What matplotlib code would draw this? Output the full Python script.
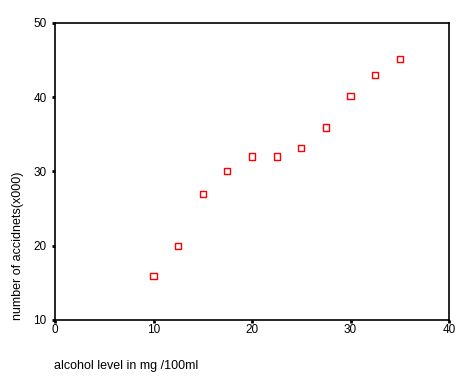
import matplotlib
matplotlib.use("Agg")
import matplotlib.pyplot as plt

# alcohol level (mg/100ml) vs number of accidents (x000)
alcohol = [10, 12.5, 15, 17.5, 20, 22.5, 25, 27.5, 30, 32.5, 35]
accidents = [15.9, 20, 26.9, 30, 32, 32, 33.1, 35.9, 40.1, 43, 45.1]

x_ticks = [0, 10, 20, 30, 40]
y_ticks = [10, 20, 30, 40, 50]

plt.rcParams['font.family'] = ['Liberation Sans', 'DejaVu Sans']

W, H = 470, 382
fig = plt.figure(figsize=(W / 100, H / 100), dpi=100)
ax = fig.add_axes([55 / W, 1 - 320 / H, (449 - 55) / W, (320 - 22.7) / H])

ax.scatter(alcohol, accidents, marker='s', s=20, facecolors='none',
           edgecolors='#ff0000', linewidths=1.0, zorder=3)

ax.set_xlim(0, 40)
ax.set_ylim(10, 50)
ax.set_xticks(x_ticks)
ax.set_yticks(y_ticks)
ax.tick_params(direction='out', length=2, width=2, labelsize=8.5, color='black')
ax.tick_params(axis='y', pad=4)
ax.tick_params(axis='x', pad=1)
for s in ax.spines.values():
    s.set_linewidth(1.2)

fig.text(54 / W, 1 - 366 / H, 'alcohol level in mg /100ml', fontsize=9,
         ha='left', va='center')
fig.text(18 / W, 1 - 320 / H, 'number of accidnets(x000)', fontsize=9,
         rotation=90, ha='center', va='bottom')

fig.savefig('out.png', dpi=100)
